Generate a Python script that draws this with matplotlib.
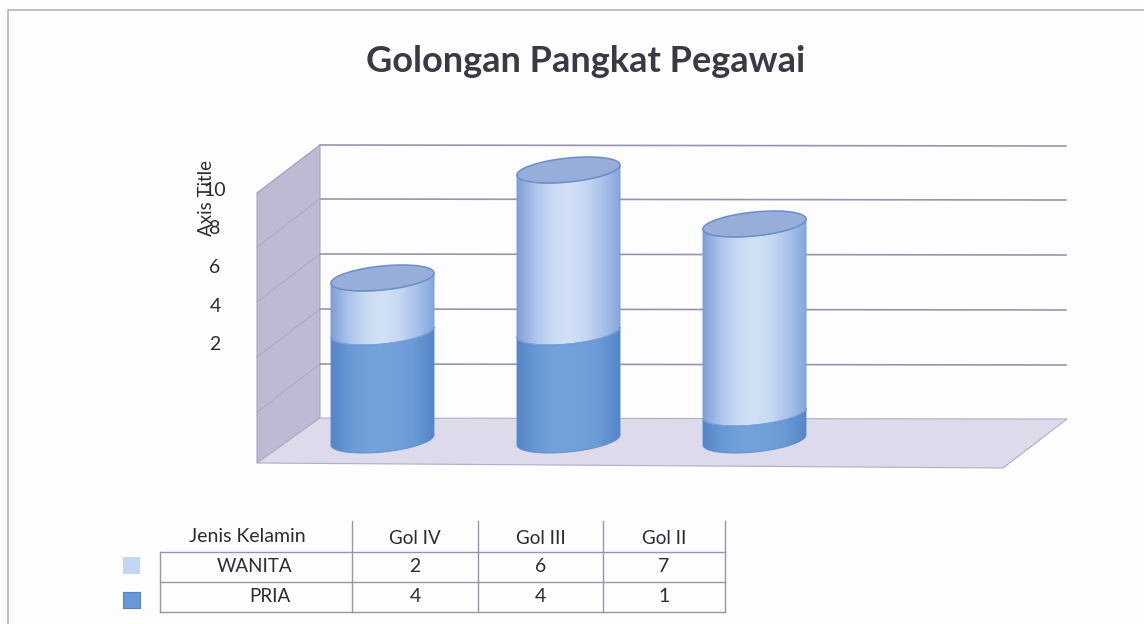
import numpy as np
import matplotlib
matplotlib.use('Agg')
import matplotlib.pyplot as plt
from matplotlib.colors import LinearSegmentedColormap
from matplotlib.patches import Polygon, Rectangle

categories = ['Gol IV', 'Gol III', 'Gol II']
wanita = [2, 6, 7]
pria = [4, 4, 1]
series_names = ['WANITA', 'PRIA']
axis_ticks = [2, 4, 6, 8, 10]
title = 'Golongan Pangkat Pegawai'

W, H = 1144, 624
PX_X = 186.0   # pixels per category
PX_Y = 27.0    # pixels per value unit
X0, Y0 = 382.5, 440.0

plt.rcParams['font.family'] = ['Lato', 'DejaVu Sans']
TEXT = '#2b2b33'
LINE = '#9795ae'

fig = plt.figure(figsize=(W / 100, H / 100), dpi=100, facecolor='#fefdfe')

# background layer in pixels: frame, walls, floor, texts, table
bg = fig.add_axes([0, 0, 1, 1])
bg.set_xlim(0, W)
bg.set_ylim(H, 0)
bg.axis('off')

bg.plot([W, 8, 8], [10, 10, H], color='#b4b3c8', lw=1.2)
bg.add_patch(Polygon([(320, 145), (1066, 145), (1066, 419), (320, 418)], fc='#fdfcff', ec='none'))
bg.add_patch(Polygon([(257, 193), (320, 145), (320, 418), (257, 463)], fc='#bdbbd4', ec='#a5a3c0', lw=0.8))
bg.add_patch(Polygon([(257, 463), (320, 418), (1067, 419), (1003, 468)], fc='#dcdaeb', ec='#b0aec8', lw=0.8))
for y in [145, 199, 254, 309, 364]:
    bg.plot([320, 1066], [y, y + 1], color=LINE, lw=1.2)
    bg.plot([257, 320], [y + 48, y], color='#a9a7c4', lw=0.7)

bg.text(586, 62, title, ha='center', va='center', fontsize=26, fontweight='bold', color='#3a3a44')
bg.text(207, 198, 'Axis Title', rotation=90, ha='center', va='center', fontsize=13.5, color=TEXT)
for i, tick in enumerate(axis_ticks):
    bg.text(215, 345 - i * 38.7, str(tick), ha='center', va='center', fontsize=14, color=TEXT)

# table under the chart
col_x = [160, 352, 478, 603, 725]
row_y = [552, 582, 612]
for x in col_x[1:]:
    bg.plot([x, x], [521, 612], color=LINE, lw=1)
bg.plot([col_x[0], col_x[0]], [552, 612], color=LINE, lw=1)
for y in row_y:
    bg.plot([col_x[0], col_x[-1]], [y, y], color=LINE, lw=1)
bg.text(247, 537, 'Jenis Kelamin', ha='center', va='center', fontsize=14, color=TEXT)
bg.text(255, 566, series_names[0], ha='center', va='center', fontsize=13.5, color=TEXT)
bg.text(270, 596, series_names[1], ha='center', va='center', fontsize=13.5, color=TEXT)
for i, cat in enumerate(categories):
    cx = (col_x[i + 1] + col_x[i + 2]) / 2
    bg.text(cx, 538, cat, ha='center', va='center', fontsize=13.5, color=TEXT)
    bg.text(cx, 567, str(wanita[i]), ha='center', va='center', fontsize=14, color=TEXT)
    bg.text(cx, 597, str(pria[i]), ha='center', va='center', fontsize=14, color=TEXT)
bg.add_patch(Rectangle((123, 557), 17, 17, fc='#c2d5f3', ec='none'))
bg.add_patch(Rectangle((123, 592), 17, 16, fc='#6a98d6', ec='#557fbe', lw=0.8))

# bars on real scales: x is the category index, y is the value
ax = fig.add_axes([0, 0, 1, 1])
ax.patch.set_alpha(0)
ax.axis('off')

half_w = 51.5 / PX_X
minor = 12.0 / PX_Y
tilt = 5.0 / PX_Y

light = LinearSegmentedColormap.from_list('light', ['#7f9fd6', '#abc4ec', '#c8daf4', '#d3e1f6', '#c6d8f3', '#a9c2ea', '#86a6dc'])
dark = LinearSegmentedColormap.from_list('dark', ['#5585c8', '#6a9ad6', '#74a2da', '#72a0da', '#6b9ad6', '#5585c8'])


def front_arc(cx, y):
    t = np.linspace(np.pi, 2 * np.pi, 60)
    return cx + half_w * np.cos(t), y + minor * np.sin(t) + tilt * np.cos(t)


def draw_segment(cx, y_low, y_high, cmap, edge):
    x1, y1 = front_arc(cx, y_low)
    x2, y2 = front_arc(cx, y_high)
    pts = np.column_stack([np.r_[x1, x2[::-1]], np.r_[y1, y2[::-1]]])
    outline = Polygon(pts, fc='none', ec=edge, lw=0.7, zorder=4)
    ax.add_patch(outline)
    img = ax.imshow(np.linspace(0, 1, 128)[None, :], cmap=cmap, aspect='auto', zorder=3,
                    extent=[cx - half_w, cx + half_w, y_low - minor - tilt, y_high + minor + tilt])
    img.set_clip_path(outline)


for i in range(len(categories)):
    draw_segment(i, 0, pria[i], dark, '#5f8fd0')
    draw_segment(i, pria[i], pria[i] + wanita[i], light, '#7f9ed6')
    t = np.linspace(0, 2 * np.pi, 120)
    top = pria[i] + wanita[i]
    ax.add_patch(Polygon(np.column_stack([i + half_w * np.cos(t), top + minor * np.sin(t) + tilt * np.cos(t)]),
                         fc='#96aed9', ec='#6a8ec8', lw=1.1, zorder=5))

ax.set_xlim(-X0 / PX_X, (W - X0) / PX_X)
ax.set_ylim(-(H - Y0) / PX_Y, Y0 / PX_Y)

fig.savefig('out.png', dpi=100, facecolor=fig.get_facecolor())
